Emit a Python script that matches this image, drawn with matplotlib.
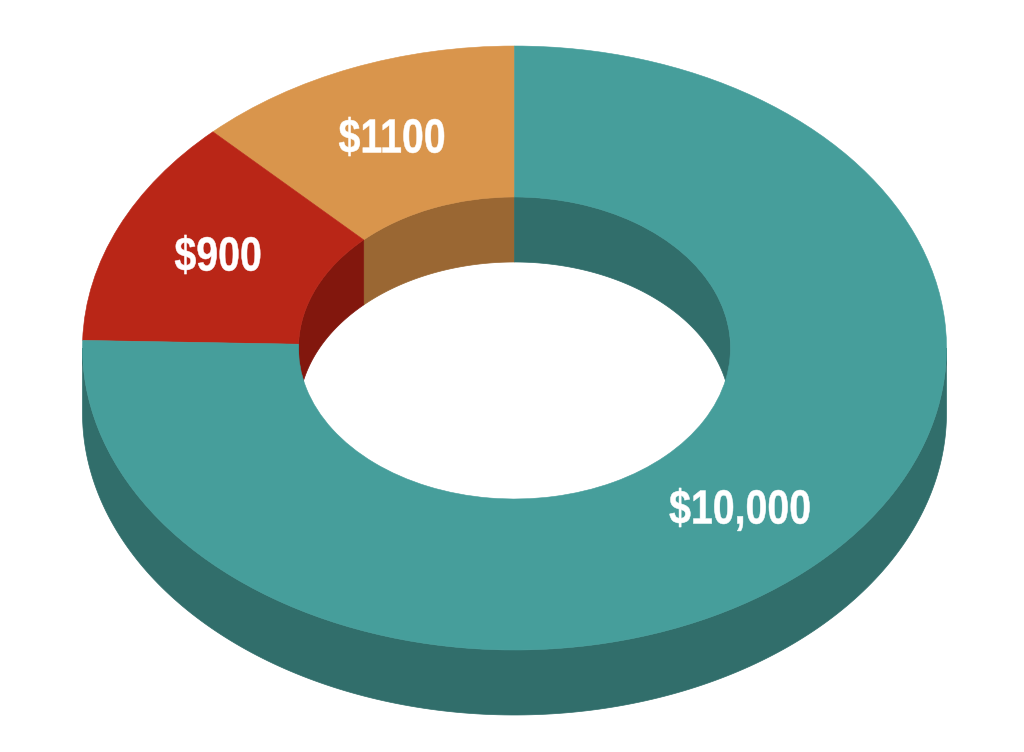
import numpy as np
import matplotlib
matplotlib.use("Agg")
import matplotlib.pyplot as plt
from matplotlib.patches import Polygon
from matplotlib.patheffects import AbstractPathEffect
from matplotlib.transforms import Affine2D

# slices as drawn in the picture (share of the ring, going counterclockwise from the top)
labels = ["$1100", "$900", "$10,000"]
shares = [12.3, 12.3, 75.4]
top_colors = ["#D9954C", "#B92617", "#469E9B"]
wall_colors = ["#9A6733", "#82170D", "#316E6B"]

# layout in pixels of the 1024x752 picture
W, H = 1024, 752
cx, cy = 514.5, 348
rx, ry = 432, 302
depth = 65 / ry
hole = 0.5

label_pos = [(392, 140), (218, 258), (740, 511)]
label_size = 34.5
label_squeeze = 0.82


class Squeeze(AbstractPathEffect):
    # narrows the glyphs around a pixel column, no condensed bold font is installed
    # the thin stroke brings back the weight lost by narrowing
    def __init__(self, px, factor, stroke=0.35):
        super().__init__()
        self.px = px
        self.factor = factor
        self.stroke = stroke

    def draw_path(self, renderer, gc, tpath, affine, rgbFace=None):
        squeeze = Affine2D().translate(-self.px, 0).scale(self.factor, 1).translate(self.px, 0)
        gc0 = renderer.new_gc()
        gc0.copy_properties(gc)
        gc0.set_foreground(rgbFace)
        gc0.set_linewidth(self.stroke)
        renderer.draw_path(gc0, tpath, affine + squeeze, rgbFace)
        gc0.restore()


def arc(r, a0, a1, shift=0.0):
    t = np.radians(np.linspace(a0, a1, 200))
    return np.column_stack([r * np.cos(t), r * np.sin(t) - shift])


def wall(ax, r, a0, a1, color, zorder):
    pts = np.vstack([arc(r, a0, a1), arc(r, a1, a0, depth)])
    ax.add_patch(Polygon(pts, closed=True, fc=color, ec=color, lw=0.5, zorder=zorder))


fig = plt.figure(figsize=(W / 100, H / 100), dpi=100)
ax = fig.add_axes([0, 0, 1, 1])

wedges, _ = ax.pie(shares, startangle=90, radius=1, colors=top_colors,
                   wedgeprops=dict(width=1 - hole, linewidth=0.4, zorder=3))
for w, c in zip(wedges, top_colors):
    w.set_edgecolor(c)

# outside wall is only seen on the front half
wall(ax, 1, 180, 360, wall_colors[2], 1)

# inside wall of the hole is only seen at the back
start = 90
for share, c in zip(shares, wall_colors):
    end = start + share * 3.6
    a0, a1 = max(start, 0), min(end, 180)
    if a1 > a0:
        wall(ax, hole, a0, a1, c, 1)
    start = end
# the teal slice wraps past 360, so its part right of the top comes round again
wall(ax, hole, 0, 90, wall_colors[2], 1)

ax.set_aspect("auto")
ax.set_xlim(-cx / rx, (W - cx) / rx)
ax.set_ylim((cy - H) / ry, cy / ry)
ax.axis("off")

for lab, (px, py) in zip(labels, label_pos):
    ax.text((px - cx) / rx, (cy - py) / ry, lab.replace("$", r"\$"), color="white",
            fontsize=label_size, fontweight="bold", family="Liberation Sans",
            ha="center", va="center", zorder=5,
            path_effects=[Squeeze(px, label_squeeze)])

fig.savefig("out.png", dpi=100)
